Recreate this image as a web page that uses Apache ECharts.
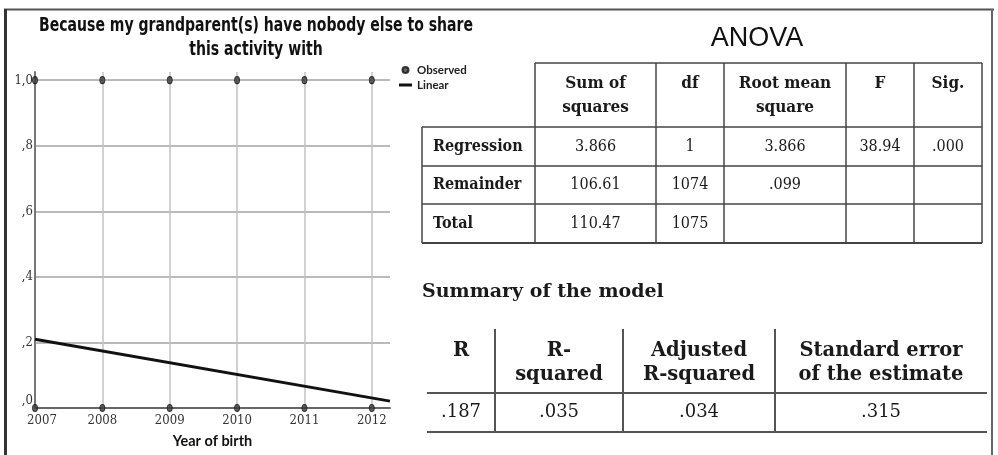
<!DOCTYPE html>
<html><head><meta charset="utf-8">
<script src="https://cdn.jsdelivr.net/npm/echarts@6/dist/echarts.min.js"></script>
<style>html,body{margin:0;padding:0;background:#fff}#c{width:998px;height:455px}</style>
</head><body><div id="c"></div>
<script>
// ---------- data ----------
const chartTitle = 'Because my grandparent(s) have nobody else to share\nthis activity with';
const xAxisName = 'Year of birth';
const xTickLabels = ['2007', '2008', '2009', '2010', '2011', '2012'];
const yTickValues = [0, 0.2, 0.4, 0.6, 0.8, 1.0];
const yTickLabels = [',0', ',2', ',4', ',6', ',8', '1,0'];
const observedYears = [2007, 2007, 2008, 2008, 2009, 2009, 2010, 2010, 2011, 2011, 2012, 2012];
const observedValues = [0, 1, 0, 1, 0, 1, 0, 1, 0, 1, 0, 1];
const linearYears = [2007, 2012.27];
const linearValues = [0.21, 0.021];
const legendNames = ['Observed', 'Linear'];

const anovaTitle = 'ANOVA';
const anovaHeaders = ['', 'Sum of\nsquares', 'df', 'Root mean\nsquare', 'F', 'Sig.'];
const anovaRowNames = ['Regression', 'Remainder', 'Total'];
const anovaSumSquares = ['3.866', '106.61', '110.47'];
const anovaDf = ['1', '1074', '1075'];
const anovaRootMeanSquare = ['3.866', '.099', ''];
const anovaF = ['38.94', '', ''];
const anovaSig = ['.000', '', ''];

const summaryTitle = 'Summary of the model';
const summaryHeaders = ['R', 'R-\nsquared', 'Adjusted\nR-squared', 'Standard error\nof the estimate'];
const summaryValues = ['.187', '.035', '.034', '.315'];

// ---------- layout / style ----------
const SANS_C = '"DejaVu Sans Condensed","DejaVu Sans",sans-serif';
const SANS_L = 'Lato,"Liberation Sans",sans-serif';
const SANS = '"Liberation Sans",Arial,sans-serif';
const SERIF_C = '"DejaVu Serif Condensed","DejaVu Serif",serif';
const SERIF = '"DejaVu Serif",serif';
const anovaCols = [422, 535, 656, 724, 846, 914, 982];
const anovaHeadTop = 63;
const anovaRowEdges = [127, 166, 204, 243];
const sumCols = [427, 495, 623, 775, 987];
const sumTop = 329, sumHeadBottom = 393, sumBottom = 432;

// measure title to fit its condensed width
const mctx = document.createElement('canvas').getContext('2d');
mctx.font = 'bold 20px ' + SANS_C;
const titleLine1W = mctx.measureText(chartTitle.split('\n')[0]).width;
const titleScaleX = Math.min(1, 434 / titleLine1W);

const g = [];
function ln(x1, y1, x2, y2, w, c) {
  g.push({ type: 'line', silent: true, shape: { x1, y1, x2, y2 }, style: { stroke: c, lineWidth: w } });
}
function tx(x, y, t, st, extra) {
  g.push(Object.assign({ type: 'text', silent: true, x, y,
    style: Object.assign({ text: t, fill: '#1a1a1a', align: 'center', verticalAlign: 'middle' }, st) }, extra || {}));
}

// frame
ln(4, 9.5, 994, 9.5, 2, '#555');
ln(5.5, 9, 5.5, 455, 3, '#333');
ln(992, 9, 992, 455, 2, '#666');

// chart title
tx(256, 14, chartTitle, { verticalAlign: 'top', lineHeight: 24, fontFamily: SANS_C, fontWeight: 'bold', fontSize: 20, fill: '#111' },
  { scaleX: titleScaleX });

// ANOVA table
tx(757, 39, anovaTitle, { fontFamily: SANS, fontSize: 27, fill: '#111' });
const TC = '#444';
ln(anovaCols[1], anovaHeadTop, anovaCols[6], anovaHeadTop, 1.5, TC);
for (let j = 1; j < anovaCols.length; j++) ln(anovaCols[j], anovaHeadTop, anovaCols[j], anovaRowEdges[3], 1.5, TC);
ln(anovaCols[0], anovaRowEdges[0], anovaCols[0], anovaRowEdges[3], 1.5, TC);
anovaRowEdges.forEach((y, i) => ln(anovaCols[0], y, anovaCols[6], y, i === 3 ? 2 : 1.5, TC));
for (let j = 1; j < anovaHeaders.length; j++) {
  tx((anovaCols[j] + anovaCols[j + 1]) / 2, 72, anovaHeaders[j],
    { verticalAlign: 'top', lineHeight: 24, fontFamily: SERIF_C, fontWeight: 'bold', fontSize: 17 });
}
const anovaColsData = [anovaSumSquares, anovaDf, anovaRootMeanSquare, anovaF, anovaSig];
anovaRowNames.forEach((name, i) => {
  const yc = (anovaRowEdges[i] + anovaRowEdges[i + 1]) / 2;
  tx(anovaCols[0] + 11, yc, name, { align: 'left', fontFamily: SERIF_C, fontWeight: 'bold', fontSize: 16 });
  anovaColsData.forEach((col, j) => {
    if (col[i]) tx((anovaCols[j + 1] + anovaCols[j + 2]) / 2, yc, col[i], { fontFamily: SERIF_C, fontSize: 16 });
  });
});

// Summary table
tx(422, 292, summaryTitle, { align: 'left', fontFamily: SERIF, fontWeight: 'bold', fontSize: 19 });
const SC = '#555';
for (let j = 1; j < sumCols.length - 1; j++) ln(sumCols[j], sumTop, sumCols[j], sumBottom, 2, SC);
ln(sumCols[0], sumHeadBottom, sumCols[4], sumHeadBottom, 2, SC);
ln(sumCols[0], sumBottom, sumCols[4], sumBottom, 2, SC);
summaryHeaders.forEach((h, j) => {
  tx((sumCols[j] + sumCols[j + 1]) / 2, 339, h,
    { verticalAlign: 'top', lineHeight: 24, fontFamily: SERIF, fontWeight: 'bold', fontSize: 19.5 });
});
summaryValues.forEach((v, j) => {
  tx((sumCols[j] + sumCols[j + 1]) / 2, (sumHeadBottom + sumBottom) / 2, v, { fontFamily: SERIF, fontSize: 18 });
});

// ---------- chart ----------
const chart = echarts.init(document.getElementById('c'), null, { renderer: 'canvas' });
const xSplitColors = xTickLabels.map(() => '#c2c2c2').concat(['rgba(0,0,0,0)']);
const ySplitColors = yTickLabels.map(() => '#a3a3a3').concat(['rgba(0,0,0,0)']);
chart.setOption({
  animation: false,
  backgroundColor: '#fff',
  grid: { left: 35, top: 72, width: 355, height: 336, containLabel: false },
  legend: {
    orient: 'vertical', left: 399, top: 64, padding: 0, itemWidth: 13, itemHeight: 6, itemGap: 3,
    selectedMode: false,
    textStyle: { fontFamily: SANS_L, fontWeight: 'bold', fontSize: 11.5, color: '#222', lineHeight: 12 },
    data: [
      { name: legendNames[0], icon: 'circle' },
      { name: legendNames[1], icon: 'path://M0,0 L13,0 L13,3 L0,3 Z', itemStyle: { color: '#111' } }
    ]
  },
  xAxis: {
    type: 'value', min: 2007, max: linearYears[1], interval: 1,
    name: xAxisName, nameLocation: 'middle', nameGap: 26,
    nameTextStyle: { fontFamily: SANS_L, fontWeight: 'bold', fontSize: 14.5, color: '#111' },
    axisLine: { show: true, lineStyle: { color: '#666', width: 2 } },
    axisTick: { show: false },
    axisLabel: {
      margin: 6, fontFamily: SERIF_C, fontSize: 13, color: '#333',
      formatter: v => {
        const i = xTickLabels.indexOf(String(v));
        if (i < 0) return '';
        return i === 0 ? '{first|' + xTickLabels[i] + '}' : xTickLabels[i];
      },
      rich: { first: { padding: [0, 0, 0, 14], fontFamily: SERIF_C, fontSize: 13, color: '#333' } }
    },
    splitLine: { show: true, lineStyle: { color: xSplitColors, width: 1.5 } }
  },
  yAxis: {
    type: 'value', min: 0, max: 1.025, interval: 0.2,
    axisLine: { show: true, lineStyle: { color: '#777', width: 2 } },
    axisTick: { show: false },
    axisLabel: {
      margin: 2, fontFamily: SERIF_C, fontSize: 13, color: '#333',
      formatter: v => {
        const i = yTickValues.findIndex(t => Math.abs(t - v) < 1e-9);
        if (i < 0) return '';
        return i === 0 ? '{low|' + yTickLabels[i] + '}' : yTickLabels[i];
      },
      rich: { low: { padding: [0, 0, 14, 0], fontFamily: SERIF_C, fontSize: 13, color: '#333' } }
    },
    splitLine: { show: true, lineStyle: { color: ySplitColors, width: 1.5 } }
  },
  series: [
    {
      name: legendNames[0], type: 'scatter', symbol: 'circle', symbolSize: [5, 7],
      itemStyle: { color: '#3a3a3a', borderColor: '#111', borderWidth: 1 },
      data: observedYears.map((x, i) => [x, observedValues[i]]), z: 3
    },
    {
      name: legendNames[1], type: 'line', symbol: 'none', showSymbol: false,
      lineStyle: { color: '#111', width: 3 }, itemStyle: { color: '#111' },
      data: linearYears.map((x, i) => [x, linearValues[i]]), z: 4
    }
  ],
  graphic: { elements: g }
});
</script>
</body></html>
